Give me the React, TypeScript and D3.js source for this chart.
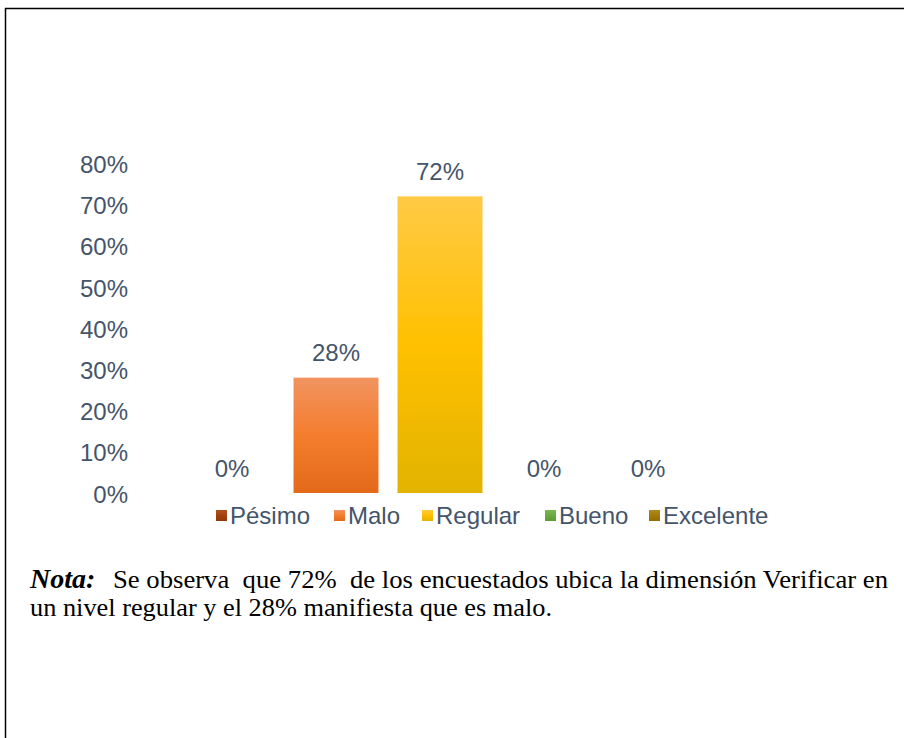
import React from "react";
import * as d3 from "d3";

const series = ["Pésimo", "Malo", "Regular", "Bueno", "Excelente"];
const values = [0, 0.28, 0.72, 0, 0];
const valueLabels = ["0%", "28%", "72%", "0%", "0%"];
const yTicks = [0, 0.1, 0.2, 0.3, 0.4, 0.5, 0.6, 0.7, 0.8];
const colorsTop = ["#B0521F", "#F19360", "#FFCA45", "#7CB84F", "#B08A1C"];
const colorsMid = ["#A3410F", "#F47D2E", "#FFC000", "#6BAA3F", "#A27A0A"];
const colorsBottom = ["#923808", "#E2691A", "#E2B300", "#5E9A34", "#936E06"];
const noteBold = "Nota:";
const noteLine1 = "Se observa  que 72%  de los encuestados ubica la dimensión Verificar en";
const noteLine2 = "un nivel regular y el 28% manifiesta que es malo.";

export default function App() {
  const W = 904;
  const H = 738;
  const x = d3
    .scaleBand<string>()
    .domain(series)
    .range([180, 700])
    .paddingInner(0.183)
    .paddingOuter(0.0915);
  const y = d3.scaleLinear().domain([0, 0.8]).range([493, 163.4]);
  const textColor = "#44546A";
  const font = "'Liberation Sans', Arial, sans-serif";
  const serif = "'Liberation Serif', 'Times New Roman', serif";

  const legendX = [216, 334, 422, 545, 649];

  return (
    <svg
      width={W}
      height={H}
      style={{ position: "absolute", left: 0, top: 0, background: "#fff" }}
    >
      <defs>
        {series.map((s, i) => (
          <linearGradient key={s} id={`g${i}`} x1="0" y1="0" x2="0" y2="1">
            <stop offset="0%" stopColor={colorsTop[i]} />
            <stop offset="50%" stopColor={colorsMid[i]} />
            <stop offset="100%" stopColor={colorsBottom[i]} />
          </linearGradient>
        ))}
      </defs>
      <rect x={0} y={0} width={W} height={H} fill="#fff" />
      <line x1={5.5} y1={8} x2={5.5} y2={H} stroke="#000" strokeWidth={1.5} />
      <line x1={5} y1={8.5} x2={W} y2={8.5} stroke="#000" strokeWidth={1.5} />

      {yTicks.map((t) => (
        <text
          key={t}
          x={128}
          y={y(t) + 1}
          dy="0.36em"
          textAnchor="end"
          fontFamily={font}
          fontSize={24}
          fill={textColor}
        >
          {d3.format(".0%")(t)}
        </text>
      ))}

      {series.map((s, i) =>
        values[i] > 0 ? (
          <rect
            key={s}
            x={x(s)}
            y={y(values[i])}
            width={x.bandwidth()}
            height={y(0) - y(values[i])}
            fill={`url(#g${i})`}
          />
        ) : null
      )}

      {series.map((s, i) => (
        <text
          key={s}
          x={(x(s) as number) + x.bandwidth() / 2}
          y={y(values[i]) - 25}
          dy="0.36em"
          textAnchor="middle"
          fontFamily={font}
          fontSize={24}
          fill={textColor}
        >
          {valueLabels[i]}
        </text>
      ))}

      {series.map((s, i) => (
        <g key={s}>
          <rect x={legendX[i]} y={510} width={11} height={11} fill={`url(#g${i})`} />
          <text
            x={legendX[i] + 14}
            y={515.5}
            dy="0.36em"
            fontFamily={font}
            fontSize={24}
            fill={textColor}
          >
            {s}
          </text>
        </g>
      ))}

      <text
        x={30}
        y={588}
        fontFamily={serif}
        fontSize={28}
        fontWeight="bold"
        fontStyle="italic"
        fill="#000"
      >
        {noteBold}
      </text>
      <text
        x={113}
        y={588}
        fontFamily={serif}
        fontSize={26}
        fill="#000"
        textLength={775}
        lengthAdjust="spacingAndGlyphs"
        style={{ whiteSpace: "pre" }}
      >
        {noteLine1}
      </text>
      <text
        x={30}
        y={616}
        fontFamily={serif}
        fontSize={26}
        fill="#000"
        textLength={522}
        lengthAdjust="spacingAndGlyphs"
      >
        {noteLine2}
      </text>
    </svg>
  );
}
